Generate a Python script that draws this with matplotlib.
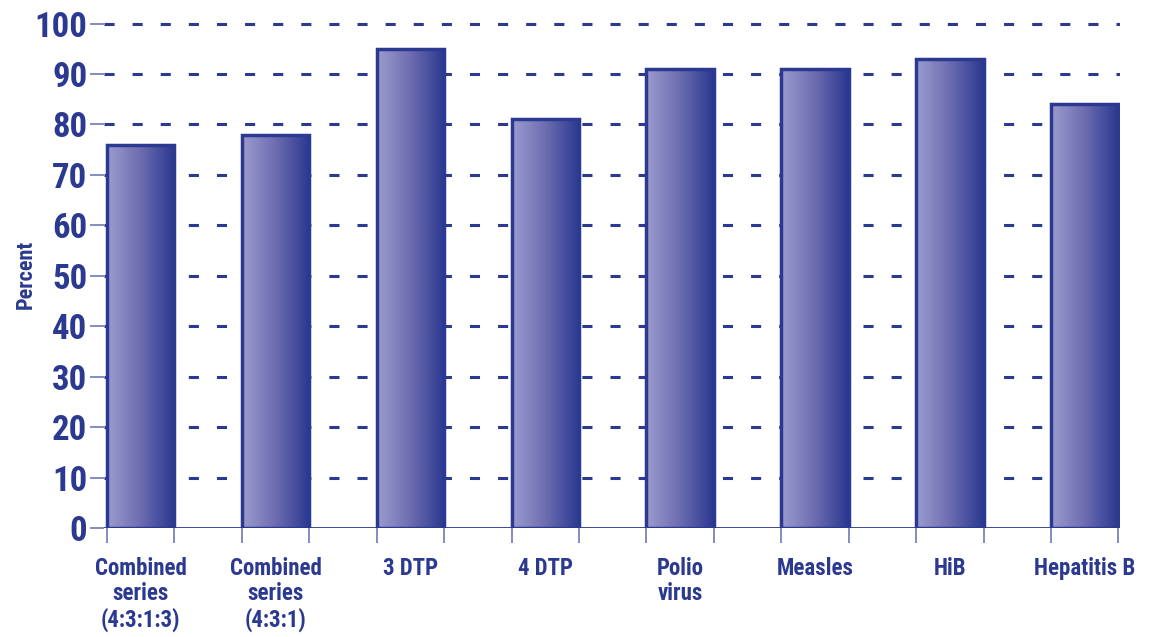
import matplotlib
matplotlib.use('Agg')
import matplotlib.pyplot as plt
import numpy as np
from matplotlib.colors import LinearSegmentedColormap
from matplotlib import font_manager

# === Data ===
categories = ['Combined\nseries\n(4:3:1:3)', 'Combined\nseries\n(4:3:1)', '3 DTP', '4 DTP',
              'Polio\nvirus', 'Measles', 'HiB', 'Hepatitis B']
percent = [76, 78, 95, 81, 91, 91, 93, 84]
y_ticks = [0, 10, 20, 30, 40, 50, 60, 70, 80, 90, 100]

navy = '#2b3990'

# pick a narrow font if there is one
names = {f.name for f in font_manager.fontManager.ttflist}
narrow = [n for n in ['Liberation Sans Narrow', 'Roboto Condensed', 'Open Sans Condensed']
          if n in names]
plt.rcParams['font.family'] = narrow + ['DejaVu Sans']
plt.rcParams['font.weight'] = 'bold'
stretch = 'normal' if narrow else 'condensed'

fig = plt.figure(figsize=(11.52, 6.37), dpi=100)
ax = fig.add_axes([0.0903, 0.171, 0.882, 0.796])

x = np.arange(len(categories))
bar_width = 0.5

# === Dashed grid behind bars ===
for t in y_ticks[1:]:
    ax.axhline(t, color=navy, linewidth=2.2, linestyle=(0, (3.3, 5.9)), zorder=1)
ax.axhline(0, color=navy, linewidth=2.0, zorder=4)

# === Gradient bars ===
cmap = LinearSegmentedColormap.from_list('grad', ['#9c9cd0', '#6c6cb0', '#2a3890'])
gradient = np.linspace(0, 1, 256).reshape(1, -1)
bars = ax.bar(x, percent, width=bar_width, facecolor='none', edgecolor=navy,
              linewidth=2.5, zorder=3)
for b in bars:
    x0, w, h = b.get_x(), b.get_width(), b.get_height()
    im = ax.imshow(gradient, cmap=cmap, aspect='auto', extent=(x0, x0 + w, 0, h),
                   zorder=2, interpolation='bicubic')
    im.set_clip_path(b)

ax.set_xlim(-0.272, 7.262)
ax.set_ylim(0, 100.5)

# y axis
ax.set_yticks(y_ticks)
ax.set_yticklabels([str(t) for t in y_ticks], fontsize=25, color=navy,
                   fontweight='heavy', fontstretch=stretch)
ax.tick_params(axis='y', length=10, width=1.2, color='#6f78b8', pad=2)
ax.set_ylabel('Percent', fontsize=16, color=navy, fontweight='bold', fontstretch=stretch)
ax.yaxis.set_label_coords(-0.066, 0.5)

# x axis: labels at bar centers, ticks at bar edges
ax.set_xticks(x)
ax.set_xticklabels(categories, fontsize=16.5, color=navy, fontweight='bold',
                   fontstretch=stretch, linespacing=1.12)
ax.tick_params(axis='x', length=0, pad=21)
edges = np.concatenate([x - bar_width / 2, x + bar_width / 2])
ax.set_xticks(edges, minor=True)
ax.tick_params(axis='x', which='minor', length=11, width=1.2, color='#6f78b8')

for s in ax.spines.values():
    s.set_visible(False)
ax.set_xlim(-0.272, 7.262)

fig.savefig('out.png', dpi=100)
